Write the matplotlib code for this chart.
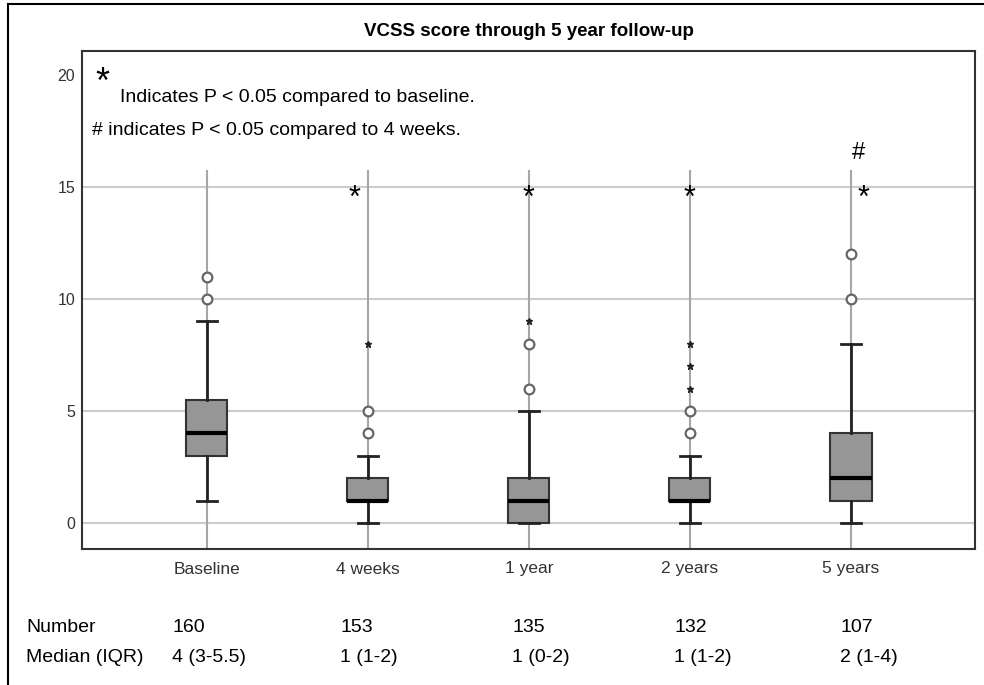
import matplotlib
matplotlib.use("Agg")
import matplotlib.pyplot as plt
from matplotlib.lines import Line2D

plt.rcParams['font.family'] = ['Liberation Sans', 'DejaVu Sans']

# data
groups = ["Baseline", "4 weeks", "1 year", "2 years", "5 years"]
q1 = [3, 1, 0, 1, 1]
medians = [4, 1, 1, 1, 2]
q3 = [5.5, 2, 2, 2, 4]
whisker_low = [1, 0, 0, 0, 0]
whisker_high = [9, 3, 5, 3, 8]
outliers = [[10, 11], [4, 5], [6, 8], [4, 5], [10, 12]]
extremes = [[], [8], [9], [6, 7, 8], []]
numbers = ["160", "153", "135", "132", "107"]
median_iqr = ["4 (3-5.5)", "1 (1-2)", "1 (0-2)", "1 (1-2)", "2 (1-4)"]
sig_baseline = [False, True, True, True, True]
sig_4weeks = [False, False, False, False, True]

W, H = 984, 685
fig = plt.figure(figsize=(W / 100, H / 100), dpi=100)
ax = fig.add_axes([82 / W, 1 - 549 / H, (975 - 82) / W, (549 - 51) / H])

pos = list(range(1, len(groups) + 1))

# grid lines
for y in [0, 5, 10, 15]:
    ax.axhline(y, color="#cccccc", lw=1.5, zorder=0)
for p in pos:
    ax.plot([p, p], [-2, 15.7], color="#a6a6a6", lw=1.5, zorder=0.5)

stats = []
for i, g in enumerate(groups):
    stats.append(dict(label=g, q1=q1[i], med=medians[i], q3=q3[i],
                      whislo=whisker_low[i], whishi=whisker_high[i], fliers=[]))

ax.bxp(stats, positions=pos, widths=0.255, showfliers=False, patch_artist=True,
       boxprops=dict(facecolor="#969696", edgecolor="#333333", lw=1.5),
       medianprops=dict(color="black", lw=3),
       whiskerprops=dict(color="#222222", lw=2),
       capprops=dict(color="#222222", lw=2),
       capwidths=0.125, zorder=2)

for p, outs, ext in zip(pos, outliers, extremes):
    if outs:
        ax.plot([p] * len(outs), outs, "o", mfc="white", mec="#666666",
                mew=1.6, ms=7, zorder=3)
    if ext:
        ax.plot([p] * len(ext), ext, "*", color="#222222", ms=5, zorder=3)

# significance marks
for p, s in zip(pos, sig_baseline):
    if s:
        dx = -0.08 if p == 2 else (0.08 if p == 5 else 0)
        ax.text(p + dx, 14.45, "*", fontsize=22, ha="center", va="center", zorder=4)
for p, s in zip(pos, sig_4weeks):
    if s:
        ax.text(p + 0.045, 16.5, "#", fontsize=17, ha="center", va="center")

ax.text(0.35, 19.6, "*", fontsize=26, ha="center", va="center")
ax.text(0.46, 19.0, "Indicates P < 0.05 compared to baseline.", fontsize=14,
        ha="left", va="center")
ax.text(0.29, 17.5, "# indicates P < 0.05 compared to 4 weeks.", fontsize=14,
        ha="left", va="center")

ax.set_xlim(0.225, 5.77)
ax.set_ylim(-1.16, 21.07)
ax.set_xticks(pos)
ax.set_xticklabels(groups)
ax.set_yticks([0, 5, 10, 15, 20])
ax.tick_params(axis="x", length=0, pad=9, labelsize=12.5, labelcolor="#333333")
ax.tick_params(axis="y", length=0, pad=5, labelsize=11.5, labelcolor="#333333")
for s in ax.spines.values():
    s.set_color("#333333")
    s.set_linewidth(1.5)

ax.set_title("VCSS score through 5 year follow-up", fontsize=13.5, fontweight="bold",
             pad=11)

# table under the chart
col_x = [172, 340, 512, 674, 840]
fig.text(26 / W, 1 - 628 / H, "Number", fontsize=14, va="center")
fig.text(26 / W, 1 - 658 / H, "Median (IQR)", fontsize=14, va="center")
for x, n, m in zip(col_x, numbers, median_iqr):
    fig.text(x / W, 1 - 628 / H, n, fontsize=14, va="center")
    fig.text(x / W, 1 - 658 / H, m, fontsize=14, va="center")

# outer frame
fig.add_artist(Line2D([8 / W, 8 / W], [0, 1 - 4 / H], color="black", lw=1.5,
                      transform=fig.transFigure))
fig.add_artist(Line2D([8 / W, 1], [1 - 4 / H, 1 - 4 / H], color="black", lw=1.5,
                      transform=fig.transFigure))

fig.savefig("out.png", dpi=100)
